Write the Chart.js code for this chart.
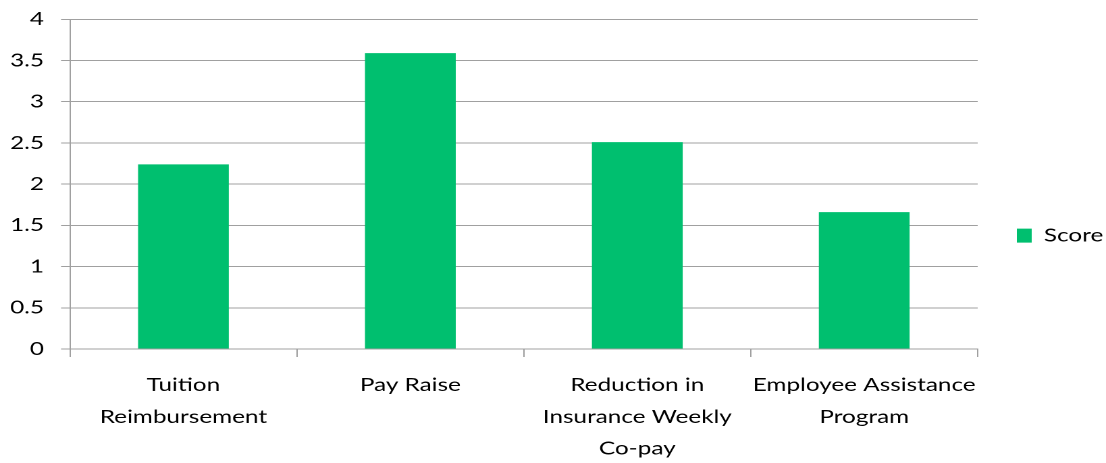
<!DOCTYPE html>
<html>
<head>
<meta charset="utf-8">
<script src="https://cdn.jsdelivr.net/npm/chart.js@4/dist/chart.umd.min.js"></script>
<style>
  html, body { margin: 0; padding: 0; background: #fff; overflow: hidden; }
  #wrap { width: 819px; height: 463px; transform: scaleX(1.3504); transform-origin: 0 0; }
</style>
</head>
<body>
<div id="wrap"><canvas id="c"></canvas></div>
<script>
const categories = [
  ["Tuition", "Reimbursement"],
  ["Pay Raise"],
  ["Reduction in", "Insurance Weekly", "Co-pay"],
  ["Employee Assistance", "Program"]
];
const seriesName = "Score";
const scores = [2.24, 3.59, 2.51, 1.66];
const yTicks = [0, 0.5, 1, 1.5, 2, 2.5, 3, 3.5, 4];

const GRID = '#a0a0a0';
const TEXT = '#000000';
const FONT = 'Lato, "Open Sans", sans-serif';

// shift the legend box up a little so its item sits where the reference has it
const legendShift = {
  id: 'legendShift',
  afterLayout(chart) {
    if (chart.legend) {
      chart.legend.top -= 5.5;
      chart.legend.bottom -= 5.5;
    }
  }
};

new Chart(document.getElementById('c'), {
  type: 'bar',
  data: {
    labels: categories,
    datasets: [{
      label: seriesName,
      data: scores,
      backgroundColor: '#00BF6F',
      borderWidth: 0,
      barPercentage: 0.4,
      categoryPercentage: 1.0
    }]
  },
  plugins: [legendShift],
  options: {
    responsive: true,
    maintainAspectRatio: false,
    devicePixelRatio: 2,
    animation: false,
    events: [],
    layout: { padding: { top: 19.3, left: 0, right: 0, bottom: 0 } },
    plugins: {
      tooltip: { enabled: false },
      legend: {
        position: 'right',
        maxWidth: 95,
        labels: {
          boxWidth: 11,
          boxHeight: 14,
          padding: 29,
          color: TEXT,
          font: { family: FONT, size: 18 }
        }
      }
    },
    scales: {
      x: {
        offset: true,
        afterFit: s => { s.height = 114; },
        grid: {
          display: true,
          drawOnChartArea: false,
          drawTicks: true,
          tickLength: 8,
          color: GRID,
          offset: true
        },
        border: { display: true, color: GRID, width: 1 },
        ticks: {
          color: TEXT,
          padding: 12.5,
          maxRotation: 0,
          autoSkip: false,
          font: { family: FONT, size: 18, lineHeight: 1.76 }
        }
      },
      y: {
        min: 0,
        max: 4,
        afterFit: s => { s.width = 51.8; s.paddingTop = 0; s.paddingBottom = 0; },
        afterBuildTicks: s => { s.ticks = yTicks.map(v => ({ value: v })); },
        grid: {
          color: GRID,
          lineWidth: 1,
          drawTicks: true,
          tickLength: 6.6
        },
        border: { display: true, color: GRID, width: 1 },
        ticks: {
          color: TEXT,
          padding: 12.6,
          font: { family: FONT, size: 18 },
          callback: v => String(v)
        }
      }
    }
  }
});
</script>
</body>
</html>
